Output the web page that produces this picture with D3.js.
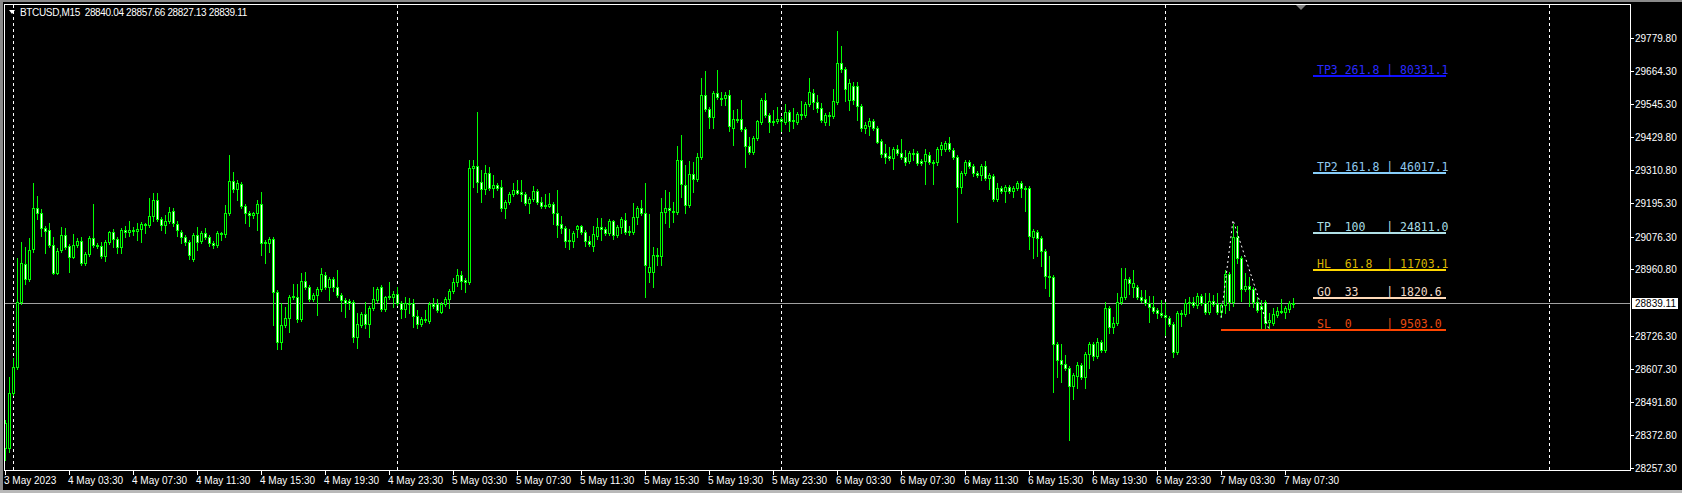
<!DOCTYPE html>
<html><head><meta charset="utf-8">
<script src="https://cdn.jsdelivr.net/npm/d3@7"></script>
<style>html,body{margin:0;padding:0;background:#000;overflow:hidden}svg{display:block}</style>
</head><body>
<svg id="c" width="1682" height="493"></svg>
<script>
// ---------------- DATA (BTCUSD M15, 3 May 23:30 -> 7 May 08:30) ----------------
const opens=[28328,28328,28523,28615,28845,28980,28926,29033,29178,29160,29107,29100,29047,28948,29029,29082,29043,29004,29047,29061,
28983,29015,29072,29047,29043,29008,29057,29093,29068,29040,29100,29093,29100,29096,29103,29121,29118,29150,29206,29139,
29118,29132,29167,29121,29093,29075,29057,28997,29082,29061,29089,29075,29054,29047,29089,29086,29160,29273,29245,29263,
29185,29160,29153,29160,29192,29054,29054,29068,28880,28703,28764,28788,28863,28863,28785,28919,28898,28856,28870,28891,
28940,28898,28926,28898,28870,28852,28848,28845,28721,28764,28802,28767,28824,28852,28898,28820,28866,28863,28873,28841,
28820,28841,28841,28795,28767,28785,28778,28838,28838,28810,28838,28856,28884,28916,28941,28923,28916,29320,29327,29270,
29245,29302,29249,29259,29252,29178,29199,29227,29242,29234,29227,29196,29210,29238,29199,29188,29185,29192,29160,29121,
29107,29065,29061,29103,29114,29093,29061,29043,29079,29111,29103,29089,29132,29082,29111,29135,29096,29093,29146,29178,
29160,28951,28951,29011,29008,29164,29178,29167,29164,29348,29259,29188,29298,29280,29358,29578,29528,29500,29585,29567,
29567,29578,29461,29489,29493,29457,29397,29376,29426,29482,29560,29507,29486,29486,29493,29482,29518,29486,29482,29510,
29507,29546,29585,29553,29532,29482,29507,29504,29553,29691,29670,29560,29610,29610,29539,29461,29468,29486,29461,29415,
29373,29362,29355,29387,29373,29358,29344,29373,29373,29344,29344,29366,29341,29341,29387,29387,29408,29383,29358,29252,
29302,29341,29327,29302,29295,29327,29284,29291,29210,29249,29238,29252,29238,29249,29266,29249,29249,29075,29093,29072,
29026,28937,28933,28696,28640,28625,28611,28548,28583,28622,28579,28661,28696,28654,28703,28675,28824,28756,28771,28845,
28863,28926,28898,28898,28863,28856,28841,28827,28817,28806,28799,28788,28767,28668,28806,28802,28841,28845,28834,28866,
28841,28810,28848,28838,28810,28834,28944,28845,29075,29001,28891,28902,28891,28845,28831,28845,28774,28771,28799,28813,
28810,28820,28840.04];
const highs=[28427,28579,28647,29001,29057,29040,29072,29266,29220,29174,29114,29125,29075,29036,29111,29107,29050,29086,29072,29075,
29022,29079,29192,29054,29057,29065,29096,29103,29075,29107,29114,29132,29111,29125,29128,29125,29213,29231,29231,29146,
29153,29181,29178,29132,29100,29082,29065,29089,29111,29096,29107,29082,29061,29096,29093,29188,29366,29305,29277,29270,
29192,29167,29164,29206,29234,29065,29075,29075,28888,28842,28827,28870,28909,28909,28948,28951,28905,28877,28898,28965,
28951,28933,28933,28958,28877,28859,28856,28852,28806,28810,28845,28831,28898,28898,28905,28866,28916,28884,28898,28848,
28863,28859,28856,28817,28792,28817,28845,28859,28856,28845,28863,28891,28930,28962,28955,28930,29348,29348,29518,29312,
29330,29323,29295,29266,29277,29206,29234,29266,29277,29277,29234,29217,29256,29245,29217,29227,29231,29199,29242,29150,
29114,29103,29096,29118,29118,29100,29079,29114,29142,29142,29111,29139,29135,29118,29146,29160,29114,29196,29185,29206,
29266,29157,29040,29036,29213,29242,29234,29199,29397,29436,29330,29344,29341,29373,29638,29663,29535,29592,29666,29588,
29588,29596,29525,29528,29560,29465,29429,29433,29489,29567,29585,29514,29525,29535,29500,29546,29525,29532,29518,29557,
29553,29638,29599,29578,29549,29514,29518,29599,29804,29751,29677,29634,29624,29624,29546,29482,29497,29493,29468,29422,
29404,29394,29394,29401,29422,29383,29380,29387,29380,29351,29387,29376,29348,29394,29411,29415,29429,29390,29366,29309,
29348,29348,29334,29309,29334,29344,29302,29298,29266,29256,29259,29259,29256,29273,29273,29256,29256,29103,29100,29079,
29033,29008,28940,28703,28696,28657,28618,28594,28632,28629,28668,28703,28703,28718,28710,28845,28831,28792,28877,28965,
28965,28933,28958,28905,28888,28888,28866,28866,28824,28852,28845,28795,28774,28813,28817,28856,28863,28863,28877,28873,
28877,28877,28870,28877,28842,28958,28951,29121,29114,29008,28948,28933,28898,28863,28852,28852,28806,28824,28827,28856,
28831,28848,28857.66];
const lows=[28286,28314,28516,28608,28838,28909,28919,29022,29139,29079,29018,29040,28944,28944,29022,29033,28951,29001,29040,28976,
28976,29008,29040,29036,29001,28990,29050,29040,29018,29018,29075,29079,29082,29065,29057,29089,29111,29132,29132,29100,
29089,29125,29114,29079,29054,29047,28997,28990,29029,29054,29068,29043,29036,29040,29065,29075,29153,29234,29206,29178,
29125,29114,29142,29100,29011,28983,29022,28764,28679,28679,28757,28739,28856,28774,28778,28891,28848,28848,28799,28884,
28891,28852,28884,28863,28813,28792,28820,28703,28682,28757,28753,28721,28817,28845,28813,28813,28856,28827,28834,28788,
28792,28806,28757,28753,28760,28774,28771,28824,28810,28806,28831,28824,28877,28902,28891,28880,28909,29252,29234,29199,
29227,29242,29217,29242,29167,29142,29192,29220,29227,29203,29188,29160,29203,29192,29178,29178,29181,29121,29075,29089,
29040,29033,29040,29075,29086,29043,29043,29025,29068,29065,29082,29082,29068,29075,29089,29086,29082,29086,29121,29153,
28863,28916,28898,28976,28976,29125,29111,29128,29157,29217,29160,29181,29234,29273,29351,29521,29461,29461,29564,29543,
29543,29450,29401,29482,29450,29323,29369,29369,29419,29475,29500,29447,29472,29479,29450,29475,29450,29461,29475,29493,
29500,29539,29528,29518,29482,29472,29472,29496,29546,29659,29557,29525,29546,29489,29450,29443,29436,29454,29408,29358,
29337,29348,29316,29366,29351,29330,29337,29348,29330,29330,29263,29334,29263,29330,29366,29380,29380,29351,29128,29231,
29295,29320,29291,29288,29277,29277,29245,29203,29203,29231,29199,29231,29217,29242,29217,29167,29033,29001,29008,28972,
28895,28866,28526,28579,28562,28604,28356,28502,28540,28572,28540,28611,28640,28647,28668,28668,28735,28735,28764,28838,
28856,28873,28863,28856,28845,28834,28774,28806,28788,28792,28728,28760,28650,28661,28760,28795,28806,28827,28824,28834,
28802,28802,28831,28802,28792,28806,28817,28831,28983,28848,28884,28831,28827,28810,28753,28753,28753,28764,28792,28806,
28788,28810,28827.13];
const closes=[28417,28523,28615,28845,28983,28926,29029,29178,29160,29107,29096,29047,28948,29026,29082,29040,29004,29047,29061,28983,
29015,29072,29047,29043,29008,29057,29093,29068,29040,29100,29093,29100,29096,29103,29121,29118,29150,29206,29139,29118,
29132,29164,29125,29100,29075,29057,29011,29082,29057,29089,29075,29054,29047,29089,29086,29160,29273,29245,29266,29185,
29160,29153,29160,29192,29054,29057,29068,28880,28703,28764,28788,28863,28866,28785,28919,28898,28856,28870,28891,28944,
28898,28926,28898,28870,28852,28841,28841,28721,28767,28802,28767,28824,28856,28891,28820,28863,28863,28873,28841,28820,
28841,28838,28795,28767,28785,28781,28838,28831,28817,28838,28856,28884,28916,28941,28919,28916,29320,29327,29270,29245,
29302,29249,29259,29249,29178,29199,29227,29242,29231,29227,29196,29210,29238,29199,29185,29185,29192,29160,29118,29107,
29061,29061,29089,29114,29093,29061,29050,29086,29111,29103,29089,29132,29082,29111,29139,29093,29093,29146,29178,29160,
28976,28969,29011,29008,29164,29178,29171,29164,29348,29263,29188,29298,29280,29358,29578,29528,29500,29585,29571,29564,
29578,29468,29493,29493,29457,29397,29376,29426,29486,29560,29507,29482,29482,29493,29486,29518,29486,29489,29510,29507,
29546,29589,29553,29532,29489,29507,29504,29557,29691,29670,29599,29620,29560,29539,29461,29472,29486,29461,29411,29369,
29358,29355,29387,29373,29358,29341,29373,29369,29337,29337,29369,29341,29337,29387,29401,29408,29387,29358,29252,29302,
29341,29327,29302,29295,29327,29284,29295,29210,29249,29238,29252,29238,29249,29266,29249,29245,29079,29096,29072,29026,
28937,28933,28696,28640,28625,28611,28548,28587,28622,28579,28661,28696,28654,28703,28675,28824,28756,28771,28845,28863,
28926,28912,28912,28863,28852,28841,28827,28813,28806,28799,28792,28767,28668,28806,28802,28841,28845,28834,28866,28841,
28810,28848,28838,28810,28834,28944,28845,29075,29001,28891,28902,28891,28845,28817,28820,28771,28781,28802,28813,28810,
28824,28841,28839.11];

const timeLabels=["3 May 2023","4 May 03:30","4 May 07:30","4 May 11:30","4 May 15:30","4 May 19:30","4 May 23:30",
"5 May 03:30","5 May 07:30","5 May 11:30","5 May 15:30","5 May 19:30","5 May 23:30",
"6 May 03:30","6 May 07:30","6 May 11:30","6 May 15:30","6 May 19:30","6 May 23:30",
"7 May 03:30","7 May 07:30"];
const timeLabelBars=[0,16,32,48,64,80,96,112,128,144,160,176,192,208,224,240,256,272,288,304,320];
const daySeparatorBars=[2,98,194,290,386];
const priceTicks=[29779.80,29664.30,29545.30,29429.80,29310.80,29195.30,29076.30,28960.80,28726.30,28607.30,28491.80,28372.80,28257.30];
const currentPrice=28839.11;
const headerText="BTCUSD,M15  28840.04 28857.66 28827.13 28839.11";

const levelNames=["TP3","TP2","TP","HL","GO","SL"];
const levelRatios=["261.8","161.8","100","61.8","33","0"];
const levelValues=["80331.1","46017.1","24811.0","11703.1","1820.6","9503.0"];
const levelPrices=[29647,29303,29090,28959,28860,28746];
const zigzagBars=[304,307,316];
const zigzagPrices=[28790,29135,28747];

// ---------------- STYLE ----------------
const levelLineColors=["#1010ff","#87cefa","#b0e0e6","#ffd700","#ffdab9","#ff4500"];
const levelTextColors=["#2a2aff","#8fc8ee","#a8dde4","#d8b400","#eed8c4","#e84a10"];
const LIME="#00ff00";
const W=1682,H=493;
const plot={l:4,t:4,r:1630,b:470};

const svg=d3.select("#c");
svg.append("rect").attr("width",W).attr("height",H).attr("fill","#000");
// window frame
svg.append("rect").attr("x",0).attr("y",0).attr("width",W).attr("height",2).attr("fill","#8a8a8a");
svg.append("rect").attr("x",0).attr("y",0).attr("width",3).attr("height",H).attr("fill","#8a8a8a");
svg.append("rect").attr("x",0).attr("y",490).attr("width",W).attr("height",3).attr("fill","#b8b8b8");

const n=closes.length;
const x=d3.scaleLinear().domain([0,1]).range([5,9]);
const y=d3.scaleLinear().domain([28257.3,29779.8]).range([468,38]);

// day separators
const g0=svg.append("g");
g0.selectAll("line.sep").data(daySeparatorBars).join("line")
  .attr("x1",d=>Math.round(x(d))+0.5).attr("x2",d=>Math.round(x(d))+0.5)
  .attr("y1",plot.t+1).attr("y2",plot.b)
  .attr("stroke","#fff").attr("stroke-width",1).attr("stroke-dasharray","3,3");

// current price line
const cpY=Math.floor(y(currentPrice))+0.5;
g0.append("line").attr("x1",plot.l).attr("x2",plot.r).attr("y1",cpY).attr("y2",cpY)
  .attr("stroke","#a0a0a0").attr("stroke-width",1);

// candles
const data=closes.map((c,i)=>({i,o:opens[i],h:highs[i],l:lows[i],c}));
const gc=svg.append("g");
gc.selectAll("rect.wick").data(data).join("rect")
  .attr("x",d=>Math.round(x(d.i))).attr("width",1)
  .attr("y",d=>Math.round(y(d.h)))
  .attr("height",d=>Math.max(1,Math.round(y(d.l))-Math.round(y(d.h))+1))
  .attr("fill",LIME);
gc.selectAll("rect.body").data(data).join("rect")
  .attr("x",d=>Math.round(x(d.i))-0.5).attr("width",2)
  .attr("y",d=>Math.round(y(Math.max(d.o,d.c)))+0.5)
  .attr("height",d=>Math.max(0,Math.round(y(Math.min(d.o,d.c)))-Math.round(y(Math.max(d.o,d.c)))))
  .attr("fill",d=>d.c>=d.o?"#000":"#fff")
  .attr("stroke",LIME).attr("stroke-width",1);

// zigzag
const zz=zigzagBars.map((b,k)=>[x(b),y(zigzagPrices[k])]);
svg.append("path").attr("d",d3.line()(zz)).attr("fill","none")
  .attr("stroke","#fff").attr("stroke-width",1).attr("stroke-dasharray","2,3");

// level lines
const gl=svg.append("g");
const lvlX0=1313,lvlX1=1446;
levelPrices.forEach((p,k)=>{
  const ly=Math.round(y(p));
  const x0=levelNames[k]==="SL"?Math.round(x(zigzagBars[0])):lvlX0;
  gl.append("rect").attr("x",x0).attr("y",ly-1).attr("width",lvlX1-x0).attr("height",2).attr("fill",levelLineColors[k]);
  const name=levelNames[k].padEnd(4," ");
  const ratio=levelRatios[k].padEnd(6," ");
  gl.append("text").attr("x",1317).attr("y",ly-2.5)
    .attr("fill",levelTextColors[k])
    .attr("font-family","'DejaVu Sans Mono',monospace").attr("font-size","11.5px")
    .attr("xml:space","preserve").style("white-space","pre")
    .text(name+ratio+"| "+levelValues[k]);
});

// plot border
svg.append("rect").attr("x",plot.l+0.5).attr("y",plot.t+0.5)
  .attr("width",plot.r-plot.l).attr("height",plot.b-plot.t)
  .attr("fill","none").attr("stroke","#fff").attr("stroke-width",1);

// shift marker triangle
const sx=Math.round(x(n-1))+8;
svg.append("path").attr("d",`M${sx-5},5 L${sx+5},5 L${sx},10 Z`).attr("fill","#7f7f7f");

// x axis ticks & labels
const gx=svg.append("g").attr("font-family","'Liberation Sans',Arial,sans-serif").attr("font-size","10px").attr("fill","#fff");
timeLabelBars.forEach((b,k)=>{
  const tx=Math.round(x(b));
  gx.append("rect").attr("x",tx).attr("y",plot.b).attr("width",1).attr("height",5).attr("fill","#fff");
  gx.append("text").attr("x",tx-1).attr("y",484).text(timeLabels[k]);
});

// y axis ticks & labels
const gy=svg.append("g").attr("font-family","'Liberation Sans',Arial,sans-serif").attr("font-size","10px").attr("fill","#fff");
priceTicks.forEach(p=>{
  const ty=Math.round(y(p));
  gy.append("rect").attr("x",plot.r).attr("y",ty).attr("width",4).attr("height",1).attr("fill","#fff");
  gy.append("text").attr("x",1635).attr("y",ty+4).text(p.toFixed(2));
});
// current price label
const cpr=Math.floor(y(currentPrice));
svg.append("rect").attr("x",1632).attr("y",cpr-5).attr("width",46).attr("height",11).attr("fill","#fff");
svg.append("text").attr("x",1635).attr("y",cpr+4).attr("font-family","'Liberation Sans',Arial,sans-serif")
  .attr("font-size","10px").attr("fill","#000").text(currentPrice.toFixed(2));

// header
svg.append("path").attr("d","M9,10 L15,10 L12,14 Z").attr("fill","#fff");
svg.append("text").attr("x",20).attr("y",16).attr("font-family","'Liberation Sans',Arial,sans-serif")
  .attr("font-size","10px").attr("letter-spacing","-0.35px").attr("fill","#fff")
  .style("white-space","pre").attr("xml:space","preserve").text(headerText);
</script>
</body></html>
